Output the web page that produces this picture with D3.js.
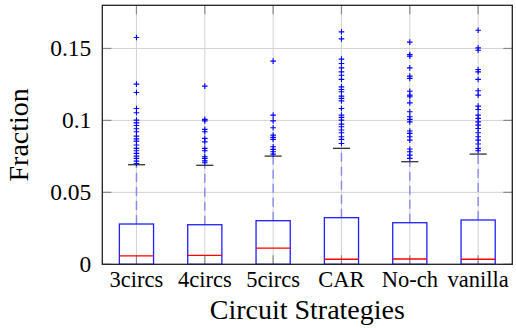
<!DOCTYPE html>
<html><head><meta charset="utf-8">
<script src="https://cdn.jsdelivr.net/npm/d3@7"></script>
<style>body{margin:0;background:#fff}svg{display:block}</style>
</head><body><div id="chart"></div>
<script>
const categories = ["3circs","4circs","5circs","CAR","No-ch","vanilla"];
const lowerWhisker = [0,0,0,0,0,0];
const lowerQuartile = [0,0,0,0,0,0];
const medians = [0.0058,0.0062,0.0113,0.0035,0.0037,0.0035];
const upperQuartile = [0.0280,0.0275,0.0303,0.0324,0.0289,0.0308];
const upperWhisker = [0.0692,0.0688,0.0752,0.0806,0.0713,0.0766];
const outliers3circs = [0.1576,0.1252,0.1194,0.1083,0.1053,0.1002,0.0983,0.0965,0.0942,0.0921,0.0891,0.0872,0.0856,0.0829,0.0806,0.0789,0.0771,0.0752,0.0736,0.0717,0.0701];
const outliers4circs = [0.1238,0.1007,0.0997,0.0938,0.0921,0.0875,0.0851,0.0806,0.0789,0.0747,0.0736,0.0719,0.0706];
const outliers5circs = [0.1412,0.1037,0.0997,0.0949,0.0898,0.0882,0.0868,0.0817,0.0799,0.0782,0.0766];
const outliersCAR = [0.1615,0.1567,0.1426,0.1396,0.1365,0.1337,0.1314,0.1285,0.1233,0.1215,0.1199,0.1169,0.1153,0.1136,0.1083,0.1037,0.1021,0.1002,0.0974,0.0956,0.0933,0.0914,0.0886,0.0868,0.0840];
const outliersNoch = [0.1544,0.1458,0.1447,0.1365,0.1308,0.1292,0.1203,0.1176,0.1164,0.1122,0.1060,0.1025,0.1007,0.0990,0.0926,0.0910,0.0886,0.0863,0.0801,0.0782,0.0759,0.0736];
const outliersVanilla = [0.1627,0.1504,0.1488,0.1354,0.1337,0.1285,0.1206,0.1176,0.1099,0.1076,0.1037,0.1014,0.0990,0.0967,0.0944,0.0914,0.0886,0.0863,0.0836,0.0806,0.0789];
const outliers = [outliers3circs,outliers4circs,outliers5circs,outliersCAR,outliersNoch,outliersVanilla];
const yTicks = [0,0.05,0.1,0.15];
const yTickLabels = ["0","0.05","0.1","0.15"];
const xLabel = "Circuit Strategies";
const yLabel = "Fraction";

const FONT = "'Liberation Serif','Times New Roman','DejaVu Serif',serif";
const W=516,H=328;
const L=102.3,R=512.3,T=5.3,B=264.3;
const svg=d3.select("#chart").append("svg").attr("width",W).attr("height",H);
const x=d3.scaleLinear().domain([0.5,categories.length+0.5]).range([L,R]);
const y=d3.scaleLinear().domain([0,0.18]).range([B,T]);
const pos=categories.map((c,i)=>i+1);

// grid
const g=svg.append("g");
g.selectAll(".hg").data(yTicks.slice(1)).join("line")
 .attr("x1",L).attr("x2",R).attr("y1",d=>y(d)).attr("y2",d=>y(d))
 .attr("stroke","#d3d3d3").attr("stroke-width",1);
g.selectAll(".vg").data(pos).join("line")
 .attr("y1",T).attr("y2",B).attr("x1",d=>x(d)).attr("x2",d=>x(d))
 .attr("stroke","#d3d3d3").attr("stroke-width",1);

// ticks (inward on all sides)
const tl=9, tc="#8a8a8a";
const tk=svg.append("g").attr("stroke",tc).attr("stroke-width",1.2);
yTicks.forEach(v=>{
  tk.append("line").attr("x1",L).attr("x2",L+tl).attr("y1",y(v)).attr("y2",y(v));
  tk.append("line").attr("x1",R).attr("x2",R-tl).attr("y1",y(v)).attr("y2",y(v));
});
pos.forEach(p=>{
  tk.append("line").attr("x1",x(p)).attr("x2",x(p)).attr("y1",B).attr("y2",B-tl);
  tk.append("line").attr("x1",x(p)).attr("x2",x(p)).attr("y1",T).attr("y2",T+tl);
});

const bw = x(1.25)-x(1); // half box width
const cw = x(1.125)-x(1); // half cap width
const boxes=svg.append("g");
categories.forEach((c,i)=>{
  const cx=x(pos[i]);
  boxes.append("line").attr("x1",cx).attr("x2",cx).attr("y1",y(upperQuartile[i])).attr("y2",y(upperWhisker[i]))
    .attr("stroke","#0000ff").attr("stroke-opacity",0.35).attr("stroke-width",1.6).attr("stroke-dasharray","9,5");
  boxes.append("line").attr("x1",cx-cw).attr("x2",cx+cw).attr("y1",y(upperWhisker[i])).attr("y2",y(upperWhisker[i]))
    .attr("stroke","#333").attr("stroke-width",1.3);
  boxes.append("rect").attr("x",cx-bw).attr("width",2*bw)
    .attr("y",y(upperQuartile[i])).attr("height",y(lowerQuartile[i])-y(upperQuartile[i]))
    .attr("fill","none").attr("stroke","#2020ff").attr("stroke-width",1.3);
  boxes.append("line").attr("x1",cx-bw).attr("x2",cx+bw).attr("y1",y(medians[i])).attr("y2",y(medians[i]))
    .attr("stroke","#ff0000").attr("stroke-width",1.3);
  const s=2.8;
  outliers[i].forEach(v=>{
    const yy=y(v);
    boxes.append("path").attr("d",`M${cx-s},${yy}H${cx+s}M${cx},${yy-s}V${yy+s}`)
      .attr("stroke","#0000ff").attr("stroke-width",1.1).attr("fill","none");
  });
});

svg.append("rect").attr("x",L).attr("y",T).attr("width",R-L).attr("height",B-T)
 .attr("fill","none").attr("stroke","#222").attr("stroke-width",1.3);

const txt=svg.append("g").attr("font-family",FONT).attr("fill","#000");
txt.selectAll(".yl").data(yTicks).join("text")
 .attr("x",L-11).attr("y",d=>y(d)+8).attr("text-anchor","end").attr("font-size",23.5)
 .text((d,i)=>yTickLabels[i]);
txt.selectAll(".xl").data(categories).join("text")
 .attr("x",(d,i)=>x(pos[i])).attr("y",287).attr("text-anchor","middle").attr("font-size",22.5)
 .text(d=>d);
txt.append("text").attr("x",(L+R)/2).attr("y",318.5).attr("text-anchor","middle").attr("font-size",28).text(xLabel);
txt.append("text").attr("transform",`translate(28,${(T+B)/2}) rotate(-90)`).attr("text-anchor","middle").attr("font-size",28).text(yLabel);
</script></body></html>
